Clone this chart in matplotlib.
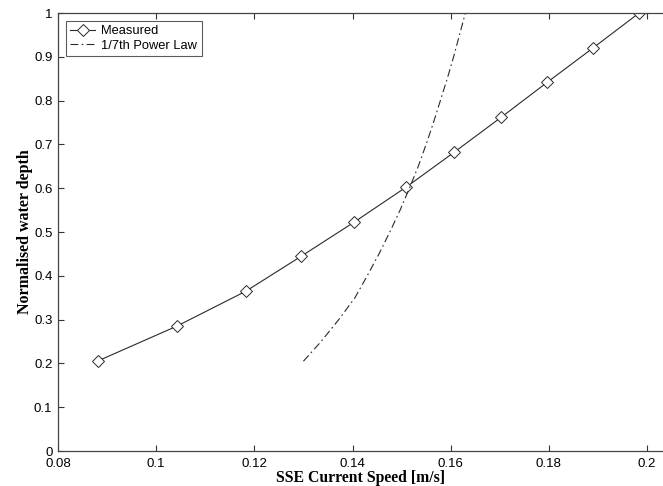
import matplotlib
matplotlib.use("Agg")
import matplotlib.pyplot as plt

# Measured profile
measured_speed = [0.0882, 0.1042, 0.1183, 0.1296, 0.1404, 0.1510, 0.1607, 0.1703, 0.1797, 0.1891, 0.1984]
measured_depth = [0.206, 0.285, 0.365, 0.445, 0.523, 0.603, 0.682, 0.762, 0.842, 0.921, 1.0]

# 1/7th power law curve
law_speed = [0.1300, 0.1336, 0.1372, 0.1405, 0.1430, 0.1454, 0.1476, 0.1497, 0.1516, 0.1534, 0.1550, 0.1565, 0.1579, 0.1593, 0.1606, 0.1618, 0.1630]
law_depth = [0.205, 0.25, 0.30, 0.35, 0.40, 0.45, 0.50, 0.55, 0.60, 0.65, 0.70, 0.75, 0.80, 0.85, 0.90, 0.95, 1.0]

xticks = [0.08, 0.1, 0.12, 0.14, 0.16, 0.18, 0.2]
xticklabels = ["0.08", "0.1", "0.12", "0.14", "0.16", "0.18", "0.2"]
yticks = [0, 0.1, 0.2, 0.3, 0.4, 0.5, 0.6, 0.7, 0.8, 0.9, 1.0]
yticklabels = ["0", "0.1", "0.2", "0.3", "0.4", "0.5", "0.6", "0.7", "0.8", "0.9", "1"]

W, H = 663, 486
fig = plt.figure(figsize=(W / 100, H / 100), dpi=100)
left, right, top, bottom = 58, 662, 13, 451
ax = fig.add_axes([left / W, 1 - bottom / H, (right - left) / W, (bottom - top) / H])

line_col = "#2a2a2a"
ax.plot(measured_speed, measured_depth, color=line_col, lw=0.8, marker="D",
        markersize=6.5, markerfacecolor="white", markeredgecolor=line_col,
        markeredgewidth=0.7, label="Measured")
ax.plot(law_speed, law_depth, color=line_col, lw=0.8, linestyle=(0, (7, 3, 1.5, 3)),
        label="1/7th Power Law")

ax.set_xlim(0.08, 0.08 + (right - left) / ((647 - 58) / 0.12))
ax.set_ylim(0, 1)
ax.set_xticks(xticks)
ax.set_xticklabels(xticklabels)
ax.set_yticks(yticks)
ax.set_yticklabels(yticklabels)

for lab in ax.get_xticklabels() + ax.get_yticklabels():
    lab.set_fontfamily("Liberation Sans")
    lab.set_fontsize(9.5)
    lab.set_color("#000000")

ax.tick_params(direction="in", length=4, width=0.8, color="#333333", top=True, right=False)
ax.tick_params(axis="x", pad=5)
ax.tick_params(axis="y", pad=4)
for s in ["left", "bottom", "top"]:
    ax.spines[s].set_color("#444444")
    ax.spines[s].set_linewidth(0.9)
ax.spines["right"].set_visible(False)

ax.set_xlabel("SSE Current Speed [m/s]", family="Liberation Serif", weight="bold", fontsize=11.3, labelpad=0)
ax.set_ylabel("Normalised water depth", family="Liberation Serif", weight="bold", fontsize=11.5, labelpad=1)

leg = ax.legend(loc="upper left", prop=dict(family="Liberation Sans", size=9.3), frameon=True,
                fancybox=False, borderaxespad=0.6, handlelength=1.9, borderpad=0.35,
                labelspacing=0.2, handletextpad=0.5)
leg.get_frame().set_edgecolor("#333333")
leg.get_frame().set_linewidth(0.8)

fig.savefig("out.png", dpi=100)
